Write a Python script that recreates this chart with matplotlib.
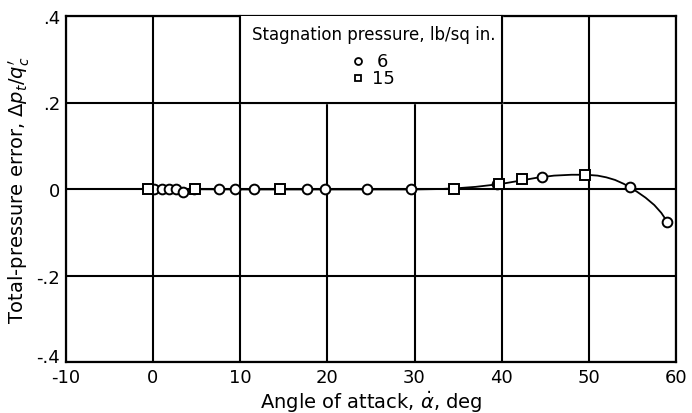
import matplotlib
matplotlib.use("Agg")
import matplotlib.pyplot as plt
from matplotlib.transforms import ScaledTranslation

plt.rcParams["axes.unicode_minus"] = False

# Test points, stagnation pressure 6 lb/sq in. (circles)
alpha_6 = [0.1, 1.0, 1.8, 2.6, 3.4, 4.7, 7.6, 9.4, 11.6, 17.7, 19.7, 24.5, 29.6,
           39.5, 44.6, 54.7, 59.0]
err_6 = [0.0, 0.0, 0.0, 0.0, -0.006, 0.0, 0.0, -0.001, -0.001, -0.001, -0.001,
         -0.001, -0.001, 0.011, 0.028, 0.004, -0.076]

# Test points, stagnation pressure 15 lb/sq in. (squares)
alpha_15 = [-0.6, 4.8, 14.6, 34.5, 39.7, 42.3, 49.5]
err_15 = [0.0, 0.001, 0.0, 0.001, 0.012, 0.023, 0.032]

# Faired curve
curve_alpha = [-0.6, 10, 20, 30, 33, 35, 37, 40, 42, 44, 46, 48, 49, 50, 51, 52,
               53, 54, 54.7, 55.5, 56.5, 57.5, 58.3, 59.0]
curve_err = [0.0, -0.001, -0.001, -0.001, 0.0, 0.002, 0.005, 0.012, 0.019, 0.026,
             0.031, 0.033, 0.033, 0.0325, 0.031, 0.027, 0.021, 0.012, 0.004,
             -0.006, -0.020, -0.037, -0.055, -0.076]

x_ticks = [-10, 0, 10, 20, 30, 40, 50, 60]
y_ticks = [-0.4, -0.2, 0.0, 0.2, 0.4]
y_tick_labels = ["-.4", "-.2", "0", ".2", ".4"]

fig = plt.figure(figsize=(6.92, 4.14), dpi=100)
ax = fig.add_axes([0.095, 0.123, 0.882, 0.836])

ax.set_xlim(-10, 60)
ax.set_ylim(-0.4, 0.4)
ax.set_xticks(x_ticks)
ax.set_yticks(y_ticks)
ax.set_yticklabels(y_tick_labels)
ax.tick_params(length=0, labelsize=13, pad=4)
ax.grid(True, color="black", linewidth=1.5)
for sp in ax.spines.values():
    sp.set_linewidth(1.6)

# lift the bottom y label a little so it clears the "-10"
lbl = ax.get_yticklabels()[0]
lbl.set_transform(lbl.get_transform() + ScaledTranslation(0, 5 / 72, fig.dpi_scale_trans))

ax.plot(curve_alpha, curve_err, color="black", linewidth=1.3, zorder=3)
ax.plot(alpha_6, err_6, "o", ms=7, mfc="white", mec="black", mew=1.4, zorder=4)
ax.plot(alpha_15, err_15, "s", ms=6.5, mfc="white", mec="black", mew=1.4, zorder=4)

# legend box, filling the grid cell from 10 to 40 deg, .2 to .4
ax.fill_between([10, 40], 0.2, 0.4, color="white", zorder=5)
ax.plot([10, 10, 40, 40], [0.4, 0.2, 0.2, 0.4], color="black", linewidth=1.5,
        zorder=6, clip_on=False)
ax.text(25.3, 0.359, "Stagnation pressure, lb/sq in.", ha="center", va="center",
        fontsize=12, zorder=7)
ax.plot([23.5], [0.297], "o", ms=5, mfc="white", mec="black", mew=1.3, zorder=7)
ax.text(25.7, 0.297, "6", ha="left", va="center", fontsize=13, zorder=7)
ax.plot([23.5], [0.256], "s", ms=5, mfc="white", mec="black", mew=1.3, zorder=7)
ax.text(25.1, 0.256, "15", ha="left", va="center", fontsize=13, zorder=7)

ax.set_xlabel(r"Angle of attack, $\dot{\alpha}$, deg", fontsize=14, labelpad=2)
ax.set_ylabel(r"Total-pressure error, $\Delta p_t/q_c'$", fontsize=14, labelpad=3)

fig.savefig("out.png", dpi=100)
